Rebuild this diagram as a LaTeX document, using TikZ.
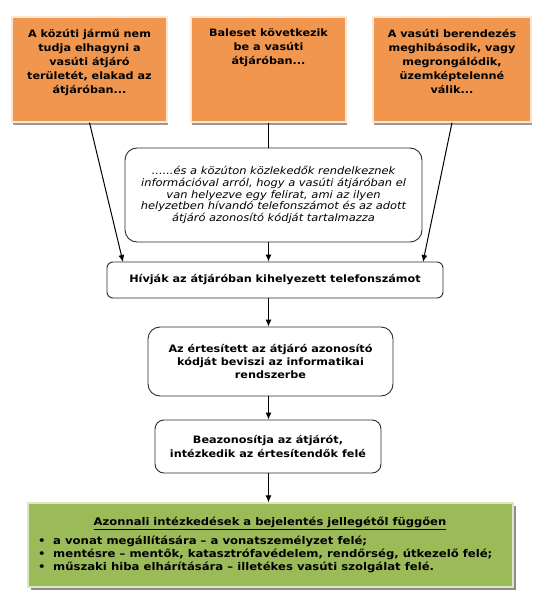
\documentclass[tikz,border=0pt]{standalone}
\usepackage{fontspec}
\setmainfont{DejaVu Sans}[FakeStretch=1.1,BoldFont={DejaVu Sans Bold},ItalicFont={DejaVu Sans Oblique},BoldItalicFont={DejaVu Sans Bold Oblique}]
\usetikzlibrary{arrows.meta,shadows}
\definecolor{orangefill}{RGB}{240,150,78}
\definecolor{greenfill}{RGB}{155,187,89}
\definecolor{boxline}{RGB}{45,45,45}
\tikzset{
 obox/.style={draw=orangefill!25!white, line width=1.2pt, fill=orangefill, minimum width=155pt, minimum height=105pt, inner sep=0pt,
   drop shadow={shadow xshift=1pt, shadow yshift=-3pt, opacity=1, fill=black!40}},
 otext/.style={font=\fontsize{10.2}{14}\selectfont\bfseries, align=center, anchor=north, inner sep=0pt},
 rbox/.style={draw=boxline, line width=0.9pt, fill=white, align=center, inner sep=0pt},
 btext/.style={font=\fontsize{10.2}{13.3}\selectfont\bfseries},
 conn/.style={draw=black, line width=1pt, -{Latex[length=7pt,width=6pt]}},
 plainline/.style={draw=black, line width=1pt},
}
\begin{document}
\begin{tikzpicture}[x=1pt,y=-1pt]
\useasboundingbox[fill=white] (0,0) rectangle (546,601);

% orange boxes
\node[obox] (o1) at (89.5,69.5) {};
\node[otext] (t1) at ([yshift=-12.5pt]o1.north) {A közúti jármű nem\\tudja elhagyni a\\vasúti átjáró\\területét, elakad az\\átjáróban...};
\node[obox] (o2) at (268.5,69.5) {};
\node[otext] (t2) at ([yshift=-12.5pt]o2.north) {Baleset következik\\be a vasúti\\átjáróban...};
\node[obox, minimum width=158pt] (o3) at (452,69.5) {};
\node[otext] (t3) at ([yshift=-12.5pt]o3.north) {A vasúti berendezés\\meghibásodik, vagy\\megrongálódik,\\üzemképtelenné\\válik...};

% italic box
\node[rbox, rounded corners=12pt, minimum width=297pt, minimum height=94pt,
  font=\fontsize{10.4}{11.8}\selectfont\itshape] (it) at (273.5,195)
  {......és a közúton közlekedők rendelkeznek\\információval arról, hogy a vasúti átjáróban el\\van helyezve egy felirat, ami az ilyen\\helyzetben hívandó telefonszámot és az adott\\átjáró azonosító kódját tartalmazza};

% call box
\node[rbox, btext, rounded corners=6pt, minimum width=336pt, minimum height=36pt] (hv) at (275,280)
  {Hívják az átjáróban kihelyezett telefonszámot};
\coordinate (h1) at (123,262);
\coordinate (h3) at (423,262);

\node[rbox, btext, rounded corners=12pt, minimum width=245pt, minimum height=69pt] (ert) at (270.5,361.5)
  {Az értesített az átjáró azonosító\\kódját beviszi az informatikai\\rendszerbe};

\node[rbox, btext, rounded corners=9pt, minimum width=226pt, minimum height=53pt] (bea) at (268,446.5)
  {Beazonosítja az átjárót,\\intézkedik az értesítendők felé};

% green box
\node[draw=greenfill!35!white, line width=1.2pt, fill=greenfill, minimum width=485pt, minimum height=84pt, inner sep=0pt,
  drop shadow={shadow xshift=2.5pt, shadow yshift=-3pt, opacity=1, fill=black!45}] (gr) at (270.5,545) {};
\node[btext, font=\fontsize{10.5}{13}\selectfont\bfseries] (gh) at (270,523) {\underline{Azonnali intézkedések a bejelentés jellegétől függően}};
\node[btext, anchor=west, align=left, inner sep=0pt, font=\fontsize{10.6}{13}\selectfont\bfseries] (gl) at (38,554.5)
  {\makebox[15pt][l]{•}a vonat megállítására – a vonatszemélyzet felé;\\
   \makebox[15pt][l]{•}mentésre – mentők, katasztrófavédelem, rendőrség, útkezelő felé;\\
   \makebox[15pt][l]{•}műszaki hiba elhárítására – illetékes vasúti szolgálat felé.};

% connectors
\draw[plainline] (o2.south) -- (o2.south |- it.north);
\draw[conn] (o1.south) -- (h1);
\draw[conn] (o3.south) -- (h3);
\draw[conn] (o2.south |- it.south) -- (o2.south |- hv.north);
\draw[conn] (o2.south |- hv.south) -- (o2.south |- ert.north);
\draw[conn] (o2.south |- ert.south) -- (o2.south |- bea.north);
\draw[conn] (o2.south |- bea.south) -- (o2.south |- gr.north);
\end{tikzpicture}
\end{document}
